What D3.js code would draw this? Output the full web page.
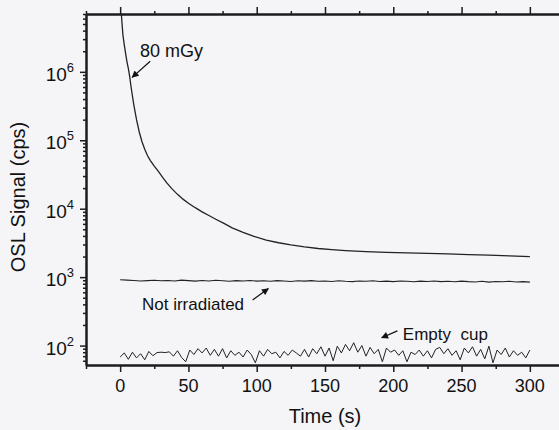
<!doctype html>
<html>
  <head>
    <meta charset="UTF-8"/>
    <title>OSL decay</title>
    <script src="https://d3js.org/d3.v7.min.js"></script>
    <style>
      body {
          margin: 0;
          padding: 0;
          background: #f5f5f7;
      }
      svg {
          display: block;
          font-family: Arial, "Liberation Sans", sans-serif;
      }
      .curve {
          fill: none;
          stroke: #222;
      }
    </style>
  </head>
  <body>
    <svg id="chart" width="559" height="430"></svg>
    <script>
      // 80 mGy decay curve (time s, counts per s)
      const doseTime = [0, 1, 2, 3, 4, 5, 6, 7, 8, 10, 12, 14, 16, 18, 20, 22, 25, 28, 31, 34, 38, 42, 46, 50,
        55, 60, 65, 70, 76, 82, 90, 98, 107, 116, 125, 135, 145, 155, 165, 180, 195, 210, 225, 240, 255, 270, 285, 300];
      const doseSignal = [1.0e7, 6.5e6, 3.5e6, 2.5e6, 1.86e6, 1.4e6, 1.12e6, 8.5e5, 6.0e5, 3.3e5, 2.0e5, 1.32e5, 9.5e4,
        7.4e4, 6.0e4, 5.1e4, 4.2e4, 3.5e4, 2.9e4, 2.4e4, 1.95e4, 1.62e4, 1.38e4, 1.2e4,
        1.035e4, 9.0e3, 7.95e3, 7.0e3, 6.1e3, 5.25e3, 4.52e3, 3.94e3, 3.47e3, 3.18e3, 2.95e3, 2.76e3, 2.62e3, 2.52e3,
        2.44e3, 2.36e3, 2.3e3, 2.26e3, 2.23e3, 2.18e3, 2.13e3, 2.09e3, 2.04e3, 1.99e3];

      // not irradiated, one reading every 5 s
      const blankSignal = [915, 905, 895, 880, 890, 900, 885, 895, 880, 905, 890, 875, 895, 880, 900, 885, 870, 890,
        880, 895, 875, 885, 870, 890, 880, 865, 885, 875, 890, 870, 880, 865, 885, 870, 860, 880, 870, 885, 865,
        875, 860, 880, 870, 855, 875, 865, 880, 860, 870, 855, 875, 860, 850, 870, 845, 865, 855, 870, 850, 860, 845];

      // empty cup, one reading every 3 s
      const cupSignal = [68, 78, 63, 80, 66, 76, 62, 82, 71, 79, 80, 79, 81, 70, 84, 67, 58, 86, 74, 90, 78, 92, 72,
        88, 70, 90, 66, 84, 72, 80, 68, 86, 74, 56, 84, 70, 88, 76, 80, 66, 82, 72, 86, 78, 70, 88, 68, 90, 76, 96,
        70, 92, 60, 98, 78, 104, 84, 110, 80, 100, 70, 94, 76, 88, 58, 92, 80, 86, 72, 84, 58, 80, 74, 86, 70, 84,
        66, 88, 94, 76, 90, 72, 84, 62, 92, 78, 96, 70, 88, 64, 98, 56, 86, 74, 92, 68, 84, 72, 80, 66, 86];

      const xTicks = [0, 50, 100, 150, 200, 250, 300];
      const xMinor = [-25, 25, 75, 125, 175, 225, 275, 325];
      const yDecades = [2, 3, 4, 5, 6];

      const svg = d3.select("#chart");
      const plotTop = 14, plotBottom = 365, plotLeft = 86, plotRight = 564;

      const x = d3.scaleLinear().domain([-25, 325]).range([plotLeft, plotRight]);
      const y = d3.scaleLog().domain([52, 7e6]).range([plotBottom, plotTop]);

      svg.append("clipPath").attr("id", "plot")
        .append("rect").attr("x", plotLeft).attr("y", plotTop)
        .attr("width", plotRight - plotLeft).attr("height", plotBottom - plotTop);

      const line = d3.line().x(d => x(d[0])).y(d => y(d[1]));
      const g = svg.append("g").attr("clip-path", "url(#plot)");

      const dose = doseTime.map((t, i) => [t, doseSignal[i]]);
      const blank = blankSignal.map((v, i) => [i * 300 / (blankSignal.length - 1), v]);
      const cup = cupSignal.map((v, i) => [i * 300 / (cupSignal.length - 1), v]);

      g.append("path").attr("class", "curve").attr("stroke-width", 1.3).attr("d", line(dose));
      g.append("path").attr("class", "curve").attr("stroke-width", 1.1).attr("d", line(blank));
      g.append("path").attr("class", "curve").attr("stroke-width", 1).attr("d", line(cup));

      // axes
      const axisStyle = sel => {
        sel.select(".domain").attr("stroke", "#1c1c1c").attr("stroke-width", 2);
        sel.selectAll(".tick line").attr("stroke", "#1c1c1c").attr("stroke-width", 1.5);
        sel.selectAll(".tick text").remove();
      };
      svg.append("g").attr("transform", `translate(0,${plotBottom})`)
        .call(d3.axisBottom(x).tickValues(xTicks).tickSizeInner(7).tickSizeOuter(0)).call(axisStyle);
      svg.append("g").attr("transform", `translate(0,${plotBottom})`)
        .call(d3.axisBottom(x).tickValues(xMinor).tickSizeInner(4).tickSizeOuter(0)).call(axisStyle);
      svg.append("g").attr("transform", `translate(0,${plotTop})`)
        .call(d3.axisTop(x).tickValues(xTicks).tickSizeInner(7).tickSizeOuter(0)).call(axisStyle);
      svg.append("g").attr("transform", `translate(0,${plotTop})`)
        .call(d3.axisTop(x).tickValues(xMinor).tickSizeInner(3).tickSizeOuter(0)).call(axisStyle);

      const yMajor = yDecades.map(e => Math.pow(10, e));
      const yMinor = [];
      [1, 2, 3, 4, 5, 6].forEach(e => d3.range(2, 10).forEach(m => {
        const v = m * Math.pow(10, e);
        if (v >= 52 && v <= 7e6) yMinor.push(v);
      }));
      svg.append("g").attr("transform", `translate(${plotLeft},0)`)
        .call(d3.axisLeft(y).tickValues(yMajor).tickSizeInner(6).tickSizeOuter(0)).call(axisStyle);
      svg.append("g").attr("transform", `translate(${plotLeft},0)`)
        .call(d3.axisLeft(y).tickValues(yMinor).tickSizeInner(3).tickSizeOuter(0)).call(axisStyle);

      // tick labels
      svg.selectAll(".xlab").data(xTicks).join("text")
        .attr("x", d => x(d)).attr("y", 392)
        .attr("text-anchor", "middle").attr("font-size", 18).attr("fill", "#111")
        .text(d => d);

      const ylab = svg.selectAll(".ylab").data(yDecades).join("text")
        .attr("x", 74).attr("y", d => y(Math.pow(10, d)) + 9)
        .attr("text-anchor", "end").attr("font-size", 19).attr("fill", "#111");
      ylab.append("tspan").text("10");
      ylab.append("tspan").attr("dy", -9).attr("font-size", 13).text(d => d);

      // axis titles
      svg.append("text").attr("x", 325).attr("y", 423).attr("text-anchor", "middle")
        .attr("font-size", 20).attr("fill", "#111").text("Time (s)");
      svg.append("text").attr("transform", "translate(25,197) rotate(-90)").attr("text-anchor", "middle")
        .attr("font-size", 20).attr("fill", "#111").text("OSL Signal (cps)");

      // annotations
      svg.append("defs").append("marker").attr("id", "head")
        .attr("viewBox", "0 0 10 10").attr("refX", 9).attr("refY", 5)
        .attr("markerWidth", 9).attr("markerHeight", 7).attr("markerUnits", "userSpaceOnUse")
        .attr("orient", "auto")
        .append("path").attr("d", "M0,0L10,5L0,10z").attr("fill", "#111");

      const notes = [
        {label: "80 mGy", t: 14.6, v: 1.64e6, from: [22, 1.43e6], to: [8.8, 8.3e5], size: 18},
        {label: "Not irradiated", t: 16, v: 332, from: [97, 464], to: [108.5, 680], size: 17},
        {label: "Empty  cup", t: 207, v: 121, from: [203, 164], to: [191.5, 130], size: 17}
      ];
      notes.forEach(n => {
        svg.append("text").attr("x", x(n.t)).attr("y", y(n.v))
          .attr("font-size", n.size).attr("fill", "#111").style("white-space", "pre").text(n.label);
        svg.append("line")
          .attr("x1", x(n.from[0])).attr("y1", y(n.from[1]))
          .attr("x2", x(n.to[0])).attr("y2", y(n.to[1]))
          .attr("stroke", "#111").attr("stroke-width", 1.2).attr("marker-end", "url(#head)");
      });
    </script>
  </body>
</html>
